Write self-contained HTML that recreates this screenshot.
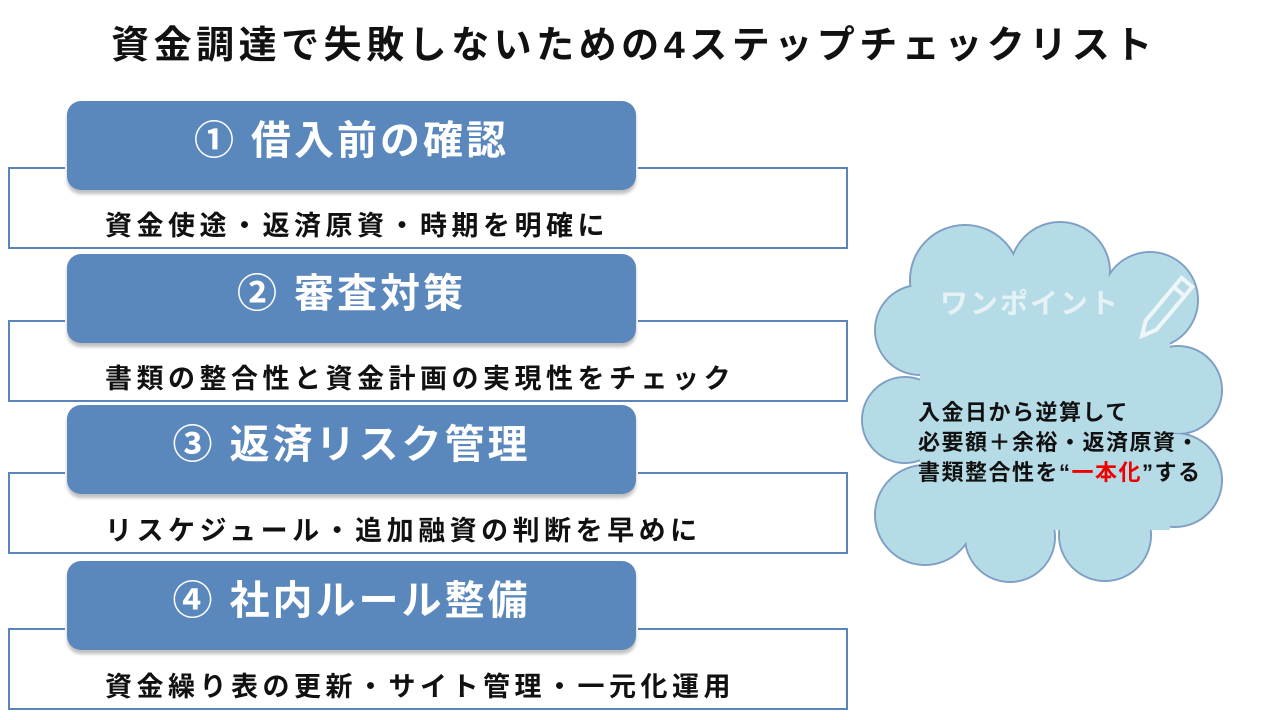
<!DOCTYPE html>
<html><head><meta charset="utf-8"><style>
body{margin:0;width:1280px;height:720px;background:#fff;position:relative;overflow:hidden;font-family:"Liberation Sans","Noto Sans CJK JP",sans-serif;font-weight:bold}
.t{position:absolute;left:0;width:1268px;top:14px;text-align:center;font-size:38px;letter-spacing:4.5px;color:#111}
.o{position:absolute;left:8px;width:836px;height:78px;border:2px solid #5b85b8;background:#fff}
.o span{position:absolute;left:95px;bottom:4px;font-size:27px;letter-spacing:4.5px;color:#111;white-space:nowrap}
.b{position:absolute;left:67px;width:569px;height:89px;background:#5a87bc;border-radius:14px;box-shadow:0 4px 3px rgba(0,0,0,.25),0 0 0 2px #fff;color:#fff;font-size:40px;letter-spacing:3px;text-align:center;line-height:80px}
.c{position:absolute;left:918px;top:398px;font-size:22px;letter-spacing:1.5px;line-height:30px;color:#111;white-space:nowrap}
</style></head><body>
<div class="t">資金調達で失敗しないための4ステップチェックリスト</div>
<div class="o" style="top:167px"><span>資金使途・返済原資・時期を明確に</span></div>
<div class="b" style="top:101px">① 借入前の確認</div>
<div class="o" style="top:320px"><span>書類の整合性と資金計画の実現性をチェック</span></div>
<div class="b" style="top:254px">② 審査対策</div>
<div class="o" style="top:472px"><span>リスケジュール・追加融資の判断を早めに</span></div>
<div class="b" style="top:405px">③ 返済リスク管理</div>
<div class="o" style="top:628px"><span>資金繰り表の更新・サイト管理・一元化運用</span></div>
<div class="b" style="top:561px">④ 社内ルール整備</div>
<svg style="position:absolute;left:0;top:0" width="1280" height="720">
<g fill="#b5dbe6" stroke="#7f9fc4" stroke-width="2">
<circle cx="965" cy="280" r="55"/><circle cx="1060" cy="272" r="50"/><circle cx="1150" cy="300" r="48"/>
<circle cx="1178" cy="390" r="44"/><circle cx="1175" cy="480" r="47"/><circle cx="1105" cy="535" r="46"/>
<circle cx="1010" cy="537" r="45"/><circle cx="925" cy="515" r="50"/><circle cx="905" cy="420" r="43"/><circle cx="920" cy="330" r="45"/>
</g>
<g fill="#b5dbe6">
<circle cx="965" cy="280" r="54"/><circle cx="1060" cy="272" r="49"/><circle cx="1150" cy="300" r="47"/>
<circle cx="1178" cy="390" r="43"/><circle cx="1175" cy="480" r="46"/><circle cx="1105" cy="535" r="45"/>
<circle cx="1010" cy="537" r="44"/><circle cx="925" cy="515" r="49"/><circle cx="905" cy="420" r="42"/><circle cx="920" cy="330" r="44"/>
<rect x="920" y="290" width="250" height="240"/>
</g>
<text x="940" y="313" font-size="28" letter-spacing="2" fill="#e4f1f5" font-family="Liberation Sans,Noto Sans CJK JP,sans-serif" font-weight="bold">ワンポイント</text>
<g transform="translate(1142,336) rotate(-50)" fill="none" stroke="#eef6f8" stroke-width="4">
<path d="M0,0 L14,-7 L70,-7 L70,7 L14,7 Z"/><line x1="58" y1="-7" x2="58" y2="7"/>
</g>
</svg>
<div class="c">入金日から逆算して<br>必要額＋余裕・返済原資・<br>書類整合性を“<span style="color:#e00">一本化</span>”する</div>
</body></html>
